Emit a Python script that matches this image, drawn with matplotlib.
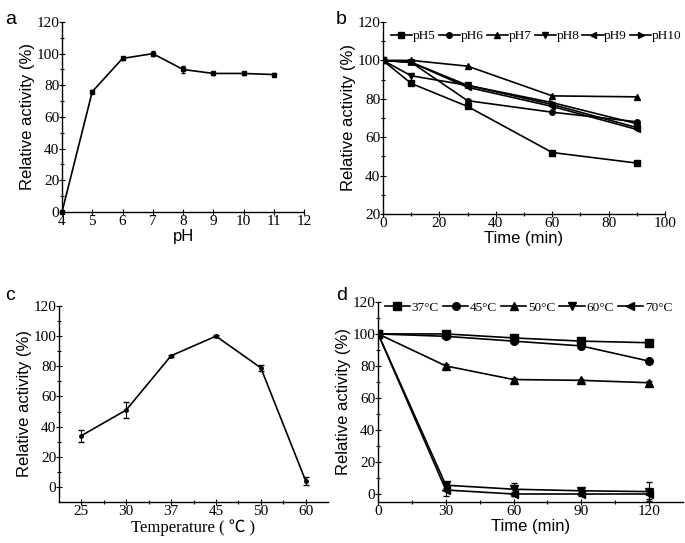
import numpy as np
import matplotlib
matplotlib.use("Agg")
import matplotlib.pyplot as plt
from matplotlib.ticker import MultipleLocator, FixedLocator

# ---------------------------------------------------
# Data
# ---------------------------------------------------

# (a) pH optimum
ph = [4, 5, 6, 7, 8, 9, 10, 11]
ph_act = [0, 76, 97, 100, 90, 87.5, 87.5, 86.8]
ph_err = [0, 0.8, 0.8, 1.5, 2, 0.8, 1.2, 0.8]

# (b) pH stability
time_b = [0, 10, 30, 60, 90]
ph_labels = ["pH5", "pH6", "pH7", "pH8", "pH9", "pH10"]
ph_stab = [
    [100, 88, 76, 52, 46.5],
    [100, 99, 79, 73, 68],
    [100, 100, 97, 81.5, 81],
    [100, 92, 87, 77, 65],
    [100, 99, 86, 76, 64],
    [100, 99, 87, 78, 67],
]

# (c) temperature optimum
temps = ["25", "30", "37", "45", "50", "60"]
temp_act = [34, 51, 87, 100, 79, 4]
temp_err = [4, 5, 0.8, 0.5, 2, 2.5]

# (d) thermostability
time_d = [0, 30, 60, 90, 120]
t_labels = ["37°C", "45°C", "50°C", "60°C", "70°C"]
t_stab = [
    [100, 100, 97.5, 95.5, 94.5],
    [100, 98.5, 95.5, 92.5, 83],
    [100, 80, 71.5, 71, 69.5],
    [100, 5.5, 3, 2, 1.5],
    [100, 2.5, 0, 0, 0],
]
t_err = [
    [0, 0.5, 0.5, 0.5, 0.5],
    [0, 0.5, 0.5, 0.5, 0.5],
    [0, 1, 1, 1, 1],
    [0, 1.5, 4, 2, 6],
    [0, 4, 1, 1, 3],
]

markers_b = ["s", "o", "^", "v", "<", ">"]
markers_d = ["s", "o", "^", "v", "<"]

# ---------------------------------------------------
# Style
# ---------------------------------------------------

serif = "Liberation Serif"
sans = "Liberation Sans"
tick_fs = 11
label_fs = 12


def style_axes(ax):
    ax.spines["top"].set_visible(False)
    ax.spines["right"].set_visible(False)
    for s in ["left", "bottom"]:
        ax.spines[s].set_linewidth(1.0)
    ax.tick_params(which="major", direction="inout", length=4, width=0.8,
                   labelsize=tick_fs, pad=0)
    ax.tick_params(which="minor", direction="inout", length=3, width=0.8)
    for lab in ax.get_xticklabels() + ax.get_yticklabels():
        lab.set_fontfamily(serif)


fig = plt.figure(figsize=(6.85, 5.43), dpi=100)

# ---------------------------------------------------
# (a)
# ---------------------------------------------------
ax = fig.add_axes([0.0905, 0.6096, 0.3535, 0.3499])
ax.errorbar(ph, ph_act, yerr=ph_err, color="black", marker="s", ms=3,
            lw=1.2, capsize=1.5, elinewidth=0.8, clip_on=False)
ax.set_xlim(4, 12)
ax.set_ylim(0, 120)
ax.xaxis.set_major_locator(MultipleLocator(1))
ax.yaxis.set_major_locator(MultipleLocator(20))
ax.yaxis.set_minor_locator(MultipleLocator(10))
ax.set_xlabel("pH", fontfamily=sans, fontsize=label_fs, labelpad=1)
ax.set_ylabel("Relative activity (%)", fontfamily=sans, fontsize=label_fs, labelpad=1)
style_axes(ax)

# ---------------------------------------------------
# (b)
# ---------------------------------------------------
ax = fig.add_axes([0.559, 0.606, 0.412, 0.3535])
for vals, m, lab in zip(ph_stab, markers_b, ph_labels):
    ax.plot(time_b, vals, color="black", marker=m, ms=4, lw=1.2, label=lab)
ax.set_xlim(0, 100)
ax.set_ylim(20, 120)
ax.xaxis.set_major_locator(MultipleLocator(20))
ax.xaxis.set_minor_locator(MultipleLocator(10))
ax.yaxis.set_major_locator(MultipleLocator(20))
ax.yaxis.set_minor_locator(MultipleLocator(10))
ax.set_xlabel("Time (min)", fontfamily=sans, fontsize=label_fs, labelpad=1)
ax.set_ylabel("Relative activity (%)", fontfamily=sans, fontsize=label_fs, labelpad=1)
style_axes(ax)
ax.legend(loc="upper left", bbox_to_anchor=(0.0, 1.0), ncol=6, frameon=False,
          prop={"family": serif, "size": 9.5}, handlelength=1.6,
          handletextpad=0.05, columnspacing=0.25, borderaxespad=0.4,
          borderpad=0.2)

# ---------------------------------------------------
# (c)
# ---------------------------------------------------
ax = fig.add_axes([0.086, 0.0755, 0.393, 0.361])
xc = np.arange(1, len(temps) + 1)
ax.errorbar(xc, temp_act, yerr=temp_err, color="black", marker="o", ms=2.5,
            lw=1.2, capsize=2, elinewidth=0.8)
ax.set_xlim(0.5, 6.5)
ax.set_ylim(-10, 120)
ax.set_xticks(xc)
ax.set_xticklabels(temps)
ax.xaxis.set_minor_locator(FixedLocator(np.arange(1.5, 6.5, 1)))
ax.set_yticks(np.arange(0, 121, 20))
ax.yaxis.set_minor_locator(FixedLocator(np.arange(10, 120, 20)))
ax.set_xlabel("Temperature ( ℃ )", fontsize=label_fs, labelpad=1)
ax.xaxis.label.set_fontfamily([serif, "Noto Sans CJK SC"])
ax.set_ylabel("Relative activity (%)", fontfamily=sans, fontsize=label_fs, labelpad=1)
style_axes(ax)

# ---------------------------------------------------
# (d)
# ---------------------------------------------------
ax = fig.add_axes([0.552, 0.0755, 0.445, 0.3685])
for vals, err, m, lab in zip(t_stab, t_err, markers_d, t_labels):
    ax.errorbar(time_d, vals, yerr=err, color="black", fmt="none",
                capsize=2, elinewidth=0.8)
    ax.plot(time_d, vals, color="black", marker=m, ms=5.5, lw=1.2, label=lab)
ax.set_xlim(0, 135)
ax.set_ylim(-5, 120)
ax.set_xticks(time_d)
ax.xaxis.set_minor_locator(FixedLocator([15, 45, 75, 105]))
ax.yaxis.set_major_locator(MultipleLocator(20))
ax.yaxis.set_minor_locator(MultipleLocator(10))
ax.set_xlabel("Time (min)", fontfamily=sans, fontsize=label_fs, labelpad=1)
ax.set_ylabel("Relative activity (%)", fontfamily=sans, fontsize=label_fs, labelpad=1)
style_axes(ax)
ax.legend(loc="upper left", bbox_to_anchor=(0.0, 1.035), ncol=5, frameon=False,
          prop={"family": serif, "size": 9.5}, handlelength=1.9,
          handletextpad=0.15, columnspacing=0.3, borderaxespad=0.3,
          borderpad=0.2)

# panel letters
for x, y, t in [(0.008, 0.965, "a"), (0.49, 0.965, "b"),
                (0.008, 0.455, "c"), (0.49, 0.455, "d")]:
    fig.text(x, y, t, fontfamily=sans, fontsize=14, va="center")

fig.savefig("out.png", dpi=100)
